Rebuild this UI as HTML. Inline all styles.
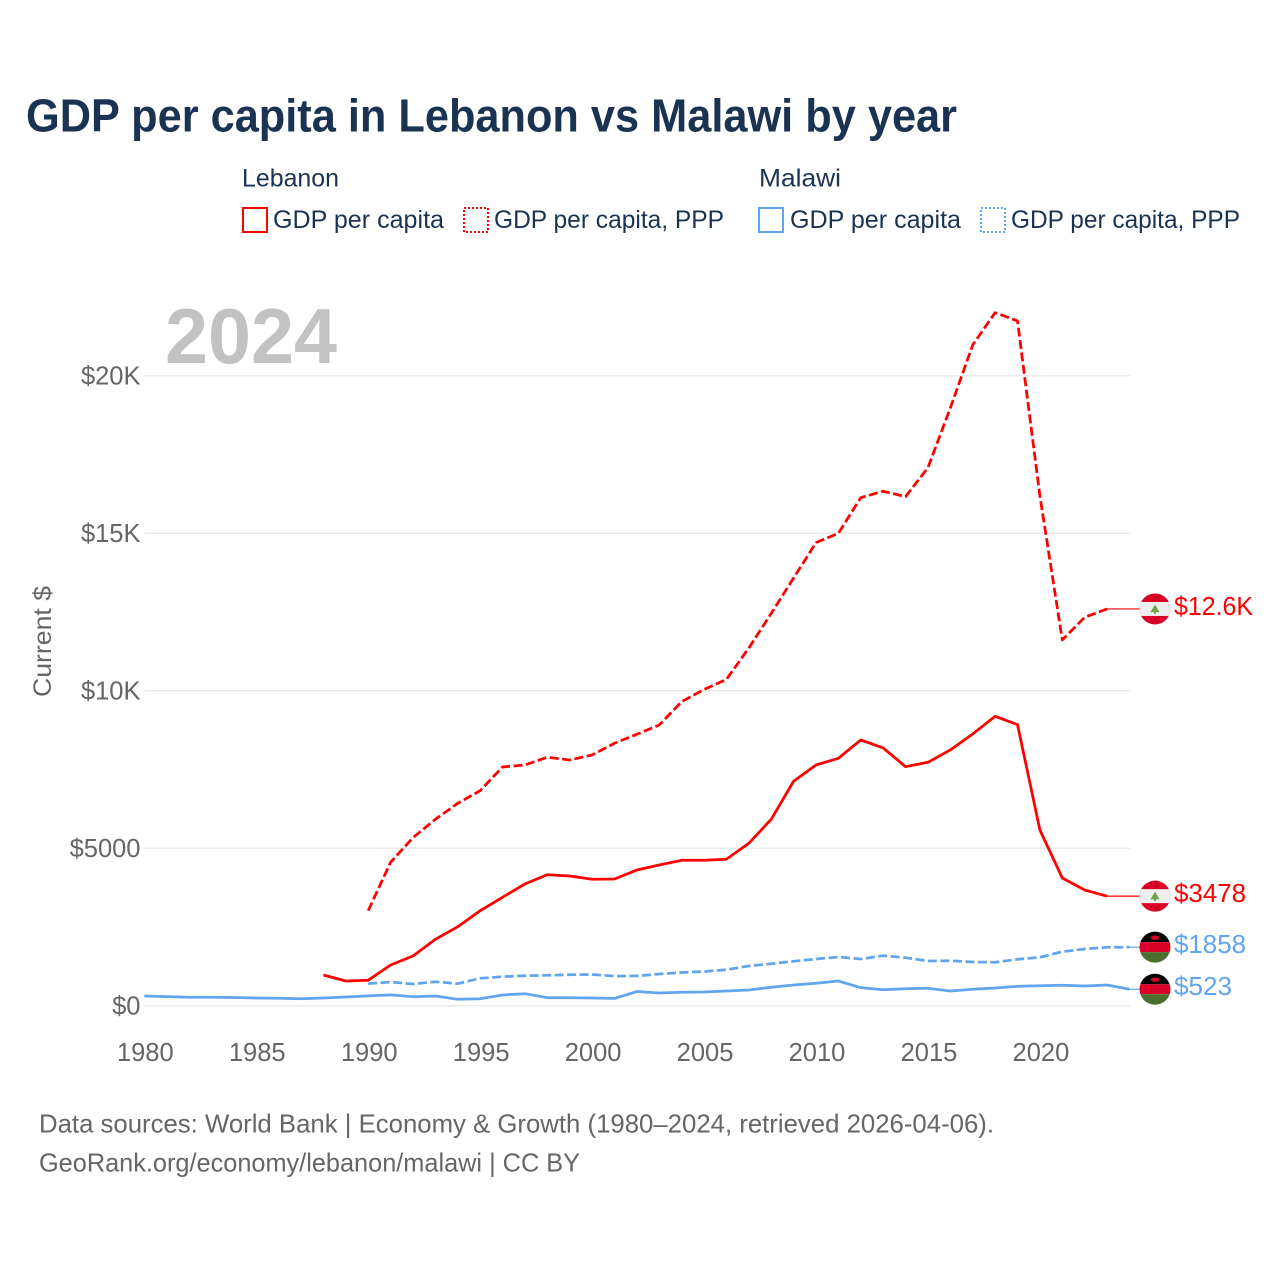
<!DOCTYPE html>
<html lang="en">
<head>
<meta charset="utf-8">
<title>GDP per capita in Lebanon vs Malawi by year</title>
<style>
  html, body { margin: 0; padding: 0; background: #fff; }
  svg { display: block; font-family: "Liberation Sans", sans-serif; }
</style>
</head>
<body>
<svg id="chart" width="1280" height="1280" viewBox="0 0 1280 1280" xmlns="http://www.w3.org/2000/svg">
  <defs>
    <clipPath id="flag-clip"><circle cx="0" cy="0" r="15.5"></circle></clipPath>
  </defs>
  <rect x="0" y="0" width="1280" height="1280" fill="#ffffff"></rect>

  <text x="26" y="131.5" font-size="46" font-weight="700" fill="#1a3353" textLength="931" lengthAdjust="spacingAndGlyphs">GDP per capita in Lebanon vs Malawi by year</text>

  <g font-size="25" fill="#1a3353">
    <text x="242" y="186.5" textLength="97" lengthAdjust="spacingAndGlyphs">Lebanon</text>
    <rect x="243" y="208" width="24" height="24" fill="none" stroke="#ff0000" stroke-width="2"></rect>
    <text x="273" y="228" textLength="171" lengthAdjust="spacingAndGlyphs">GDP per capita</text>
    <rect x="464" y="208" width="24" height="24" fill="none" stroke="#ff0000" stroke-width="2" stroke-dasharray="2 2"></rect>
    <text x="494" y="228" textLength="230" lengthAdjust="spacingAndGlyphs">GDP per capita, PPP</text>

    <text x="759" y="186.5" textLength="82" lengthAdjust="spacingAndGlyphs">Malawi</text>
    <rect x="759" y="208" width="24" height="24" fill="none" stroke="#60a5ee" stroke-width="2"></rect>
    <text x="790" y="228" textLength="171" lengthAdjust="spacingAndGlyphs">GDP per capita</text>
    <rect x="981" y="208" width="24" height="24" fill="none" stroke="#60a5ee" stroke-width="2" stroke-dasharray="2 2"></rect>
    <text x="1011" y="228" textLength="229" lengthAdjust="spacingAndGlyphs">GDP per capita, PPP</text>
  </g>

  <text x="165" y="363" font-size="78" font-weight="700" fill="#c2c2c2" textLength="172" lengthAdjust="spacingAndGlyphs">2024</text>

  <g id="grid"></g>
  <g id="y-axis"></g>
  <g id="x-axis"></g>

  <text transform="translate(51,641.5) rotate(-90)" text-anchor="middle" font-size="25" fill="#666666" textLength="111" lengthAdjust="spacingAndGlyphs">Current $</text>

  <g id="series"></g>
  <g id="end-markers"></g>

  <g font-size="26" fill="#666666">
    <text x="39" y="1132.5" textLength="955" lengthAdjust="spacingAndGlyphs">Data sources: World Bank | Economy &amp; Growth (1980–2024, retrieved 2026-04-06).</text>
    <text x="39" y="1171.5" textLength="541" lengthAdjust="spacingAndGlyphs">GeoRank.org/economy/lebanon/malawi | CC BY</text>
  </g>
</svg>

<script>
const xTicks = [1980, 1985, 1990, 1995, 2000, 2005, 2010, 2015, 2020];
const yTicks = [0, 5000, 10000, 15000, 20000];
const yTickLabels = ['$0', '$5000', '$10K', '$15K', '$20K'];

const lebanonGdpStart = 1988;
const lebanonGdp = [975, 784, 806, 1292, 1578, 2108, 2508, 3016, 3442, 3864, 4159, 4118, 4013, 4023, 4308, 4467, 4616, 4616, 4651, 5156, 5918, 7125, 7642, 7855, 8436, 8182, 7588, 7728, 8118, 8626, 9188, 8922, 5578, 4054, 3673, 3478];

const lebanonPppStart = 1990;
const lebanonPpp = [3016, 4553, 5334, 5918, 6426, 6826, 7579, 7642, 7887, 7801, 7960, 8331, 8617, 8912, 9652, 10039, 10357, 11357, 12452, 13579, 14700, 14999, 16129, 16332, 16161, 17082, 18977, 20977, 22003, 21739, 16183, 11611, 12332, 12595];

const malawiGdpStart = 1980;
const malawiGdp = [308, 289, 267, 267, 260, 244, 238, 222, 244, 276, 311, 343, 286, 308, 203, 222, 340, 381, 254, 254, 244, 232, 451, 403, 429, 435, 467, 498, 584, 657, 711, 784, 572, 508, 540, 552, 467, 521, 562, 616, 635, 648, 625, 657, 523];

const malawiPppStart = 1990;
const malawiPpp = [699, 752, 689, 762, 699, 870, 921, 952, 965, 984, 991, 940, 946, 1006, 1054, 1086, 1143, 1260, 1333, 1410, 1483, 1546, 1483, 1588, 1524, 1419, 1429, 1387, 1378, 1473, 1537, 1715, 1800, 1854, 1858];

const endLabelLebanonGdp = '$3478';
const endLabelLebanonPpp = '$12.6K';
const endLabelMalawiGdp = '$1858';
const endLabelMalawiPpp = '$523';

const NS = 'http://www.w3.org/2000/svg';
const RED = '#ff0000';
const BLUE = '#60a5ee';

function xScale(year) { return 144.3 + (year - 1980) * 22.39; }
function yScale(value) { return 1005.7 - value * 0.0315; }

function make(tag, parent, attrs) {
  const el = document.createElementNS(NS, tag);
  for (const k in attrs) el.setAttribute(k, attrs[k]);
  parent.appendChild(el);
  return el;
}

const gridG = document.getElementById('grid');
const yAxisG = document.getElementById('y-axis');
const xAxisG = document.getElementById('x-axis');
const seriesG = document.getElementById('series');
const markersG = document.getElementById('end-markers');

yTicks.forEach(function (tick, i) {
  const line = make('line', gridG, { x1: 144.3, x2: 1130, y1: yScale(tick), y2: yScale(tick), stroke: '#ebebeb', 'stroke-width': 1.5 });
  
  
  const label = make('text', yAxisG, { x: 140.5, y: yScale(tick) + 8.8, 'text-anchor': 'end', 'font-size': 25.5, fill: '#666666' });
  label.textContent = yTickLabels[i];
  
  
});

xTicks.forEach(function (tick) {
  const label = make('text', xAxisG, { x: xScale(tick) + 1, y: 1061, 'text-anchor': 'middle', 'font-size': 25.5, fill: '#666666' });
  label.textContent = String(tick);
  
  
});

function pathFor(startYear, values) {
  return values.map(function (v, i) {
    return (i ? 'L' : 'M') + xScale(startYear + i).toFixed(2) + ' ' + yScale(v).toFixed(2);
  }).join(' ');
}

function drawSeries(startYear, values, color, dashed) {
  const attrs = { d: pathFor(startYear, values), fill: 'none', stroke: color, 'stroke-width': 2.75, 'stroke-linejoin': 'round' };
  if (dashed) attrs['stroke-dasharray'] = '9 3.5';
  return make('path', seriesG, attrs);
}

function drawLebanonFlag(parent) {
  const g = make('g', parent, { 'clip-path': 'url(#flag-clip)' });
  make('rect', g, { x: -16, y: -16, width: 32, height: 32, fill: '#d80027' });
  make('rect', g, { x: -16, y: -7, width: 32, height: 14, fill: '#eeeeee' });
  make('polygon', g, { points: '0,-4.5 4.5,3.2 1,3.2 1,4.8 -1,4.8 -1,3.2 -4.5,3.2', fill: '#6da544' });
  return g;
}

function drawMalawiFlag(parent) {
  const g = make('g', parent, { 'clip-path': 'url(#flag-clip)' });
  make('rect', g, { x: -16, y: -16, width: 32, height: 11, fill: '#000000' });
  make('rect', g, { x: -16, y: -5, width: 32, height: 10, fill: '#d80027' });
  make('rect', g, { x: -16, y: 5, width: 32, height: 11, fill: '#496e2d' });
  make('ellipse', g, { cx: 0, cy: -9.5, rx: 4.2, ry: 2.2, fill: '#d80027' });
  return g;
}

function drawEnd(startYear, values, color, text, labelWidth, drawFlag) {
  const last = values[values.length - 1];
  const lastYear = startYear + values.length - 1;
  const y = yScale(last);
  const connector = make('line', markersG, { x1: xScale(lastYear), x2: 1140, y1: y, y2: y, stroke: color, 'stroke-width': 1.2 });
  
  
  const flagG = make('g', markersG, { transform: 'translate(1155,' + y.toFixed(2) + ')' });
  
  
  drawFlag(flagG);
  const label = make('text', markersG, { x: 1174, y: y + 6, 'font-size': 25.5, fill: color, textLength: labelWidth, lengthAdjust: 'spacingAndGlyphs' });
  label.textContent = text;
  
  
}

const lineMalawiGdp = drawSeries(malawiGdpStart, malawiGdp, BLUE, false);



const lineMalawiPpp = drawSeries(malawiPppStart, malawiPpp, BLUE, true);



const lineLebanonGdp = drawSeries(lebanonGdpStart, lebanonGdp, RED, false);



const lineLebanonPpp = drawSeries(lebanonPppStart, lebanonPpp, RED, true);



drawEnd(lebanonPppStart, lebanonPpp, RED, endLabelLebanonPpp, 79, drawLebanonFlag);
drawEnd(lebanonGdpStart, lebanonGdp, RED, endLabelLebanonGdp, 72, drawLebanonFlag);
drawEnd(malawiPppStart, malawiPpp, BLUE, endLabelMalawiGdp, 72, drawMalawiFlag);
drawEnd(malawiGdpStart, malawiGdp, BLUE, endLabelMalawiPpp, 58, drawMalawiFlag);
</script>
</body>
</html>
